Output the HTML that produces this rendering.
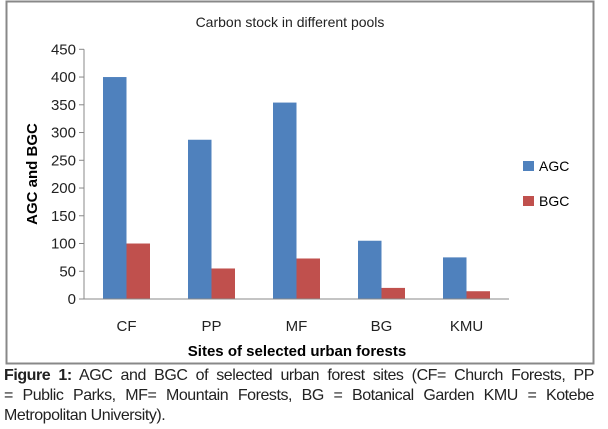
<!DOCTYPE html>
<html><head><meta charset="utf-8"><style>
body{margin:0;width:608px;height:429px;background:#fff;overflow:hidden;font-family:"Liberation Sans",sans-serif}
#cap{position:absolute;left:4px;top:366px;width:590px;font-size:16px;line-height:20px;color:#222;letter-spacing:-0.45px}
#cap div{text-align:justify;text-align-last:justify;white-space:nowrap;overflow:visible}
#cap div.last{text-align-last:left}
</style></head><body>
<svg width="608" height="429" style="position:absolute;left:0;top:0">
<rect x="6.5" y="1.5" width="587" height="362" fill="#fff" stroke="#888" stroke-width="2"/>
<text x="290" y="27" font-size="14" text-anchor="middle" fill="#222">Carbon stock in different pools</text>
<g id="plot"></g>
<text transform="translate(37,174) rotate(-90)" font-size="15" font-weight="bold" text-anchor="middle">AGC and BGC</text>
<text x="297" y="356" font-size="15" font-weight="bold" text-anchor="middle">Sites of selected urban forests</text>
<rect x="523" y="161" width="11" height="10" fill="#4f81bd"/>
<text x="539" y="171" font-size="14">AGC</text>
<rect x="523" y="196" width="11" height="10" fill="#c0504d"/>
<text x="539" y="206" font-size="14">BGC</text>
</svg>
<div id="cap">
<div><b>Figure 1:</b> AGC and BGC of selected urban forest sites (CF= Church Forests, PP</div>
<div>= Public Parks, MF= Mountain Forests, BG = Botanical Garden KMU = Kotebe</div>
<div class="last">Metropolitan University).</div>
</div>
<script>
const categories=["CF","PP","MF","BG","KMU"];
const agc=[400,287,354,105,75];
const bgc=[100,55,73,20,14];
const yTicks=[0,50,100,150,200,250,300,350,400,450];
const NS="http://www.w3.org/2000/svg";
const g=document.getElementById("plot");
const x0=84,x1=509,y0=299,yTop=49.3,yMax=450;
const y=v=>y0-(y0-yTop)*v/yMax;
const band=(x1-x0)/categories.length;
const cx=i=>x0+band*(i+0.5);
function mk(t,a){const e=document.createElementNS(NS,t);for(const k in a)e.setAttribute(k,a[k]);g.appendChild(e);return e;}
yTicks.forEach(t=>{
 const l=mk("line",{x1:x0-5,x2:x0,y1:y(t),y2:y(t),stroke:"#888"});
 
 
 const tx=mk("text",{x:x0-8,y:y(t)+5,"font-size":"15","text-anchor":"end",fill:"#222"});
 tx.textContent=t;
 
 
});
const bw=23.5;
categories.forEach((c,i)=>{
 const a=mk("rect",{x:cx(i)-bw,y:y(agc[i]),width:bw,height:y0-y(agc[i]),fill:"#4f81bd"});
 
 
 const b=mk("rect",{x:cx(i),y:y(bgc[i]),width:bw,height:y0-y(bgc[i]),fill:"#c0504d"});
 
 
 const tx=mk("text",{x:cx(i),y:331,"font-size":"15","text-anchor":"middle",fill:"#222"});
 tx.textContent=c;
 
 
});
const ya=mk("line",{x1:x0,x2:x0,y1:yTop,y2:y0,stroke:"#888"});


const xa=mk("line",{x1:x0,x2:x1,y1:y0,y2:y0,stroke:"#888"});


</script>
</body></html>
